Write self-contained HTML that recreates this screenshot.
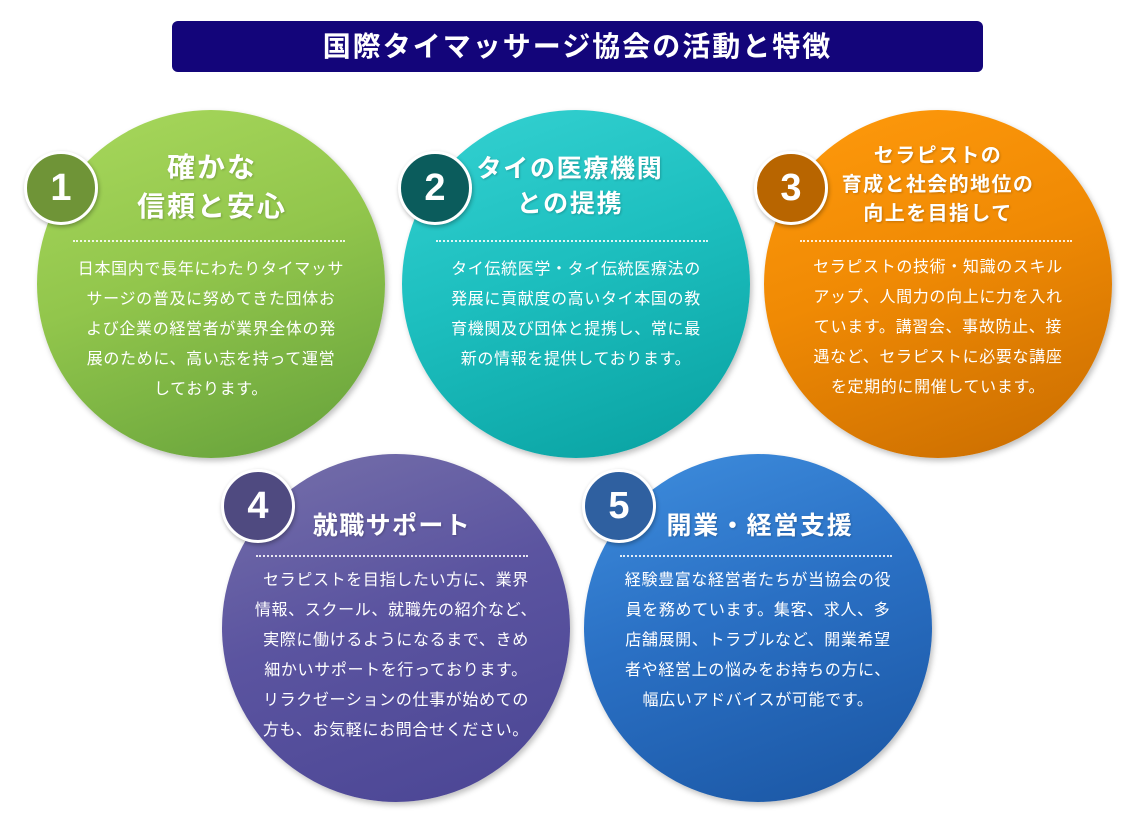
<!DOCTYPE html>
<html><head><meta charset="utf-8"><style>
body{margin:0;width:1140px;height:830px;background:#fff;position:relative;overflow:hidden;font-family:"Liberation Sans","Noto Sans CJK JP",sans-serif;color:#fff}
.bar{position:absolute;left:172px;top:21px;width:811px;height:51px;background:#13057a;border-radius:6px;text-align:center;line-height:51px;font-size:28px;font-weight:bold;letter-spacing:2px}
.c{position:absolute;width:348px;height:348px;border-radius:50%;box-shadow:2px 3px 6px rgba(0,0,0,.25)}
.b{position:absolute;width:68px;height:68px;border-radius:50%;border:3px solid #fff;box-shadow:1px 2px 4px rgba(0,0,0,.3);text-align:center;line-height:68px;font-size:38px;font-weight:bold;font-family:"Liberation Sans",sans-serif}
.t{position:absolute;text-align:center;font-weight:bold;text-shadow:1px 1px 2px rgba(0,0,0,.2);white-space:nowrap}
.d{position:absolute;height:0;border-top:2px dotted rgba(255,255,255,.85)}
.p{position:absolute;text-align:center;font-size:16px;letter-spacing:0.65px;line-height:30px;white-space:nowrap}
</style></head><body>
<div class="bar">国際タイマッサージ協会の活動と特徴</div>

<div class="c" style="left:37px;top:110px;background:linear-gradient(160deg,#a8d85c 0%,#92c64c 45%,#64a03a 100%)"></div>
<div class="c" style="left:402px;top:110px;background:linear-gradient(160deg,#35d2d2 0%,#1dbfbf 45%,#08a0a0 100%)"></div>
<div class="c" style="left:764px;top:110px;background:linear-gradient(160deg,#ff9a0c 0%,#f08a04 45%,#c86c00 100%)"></div>
<div class="c" style="left:222px;top:454px;background:linear-gradient(160deg,#7670aa 0%,#5b54a0 45%,#4a4594 100%)"></div>
<div class="c" style="left:584px;top:454px;background:linear-gradient(160deg,#3f8ede 0%,#2a70c4 45%,#1a55a2 100%)"></div>

<div class="b" style="left:24px;top:151px;background:#6f9437">1</div>
<div class="b" style="left:398px;top:151px;background:#0b5c5c">2</div>
<div class="b" style="left:754px;top:151px;background:#b86500">3</div>
<div class="b" style="left:221px;top:469px;background:#4f4a80">4</div>
<div class="b" style="left:582px;top:469px;background:#2f60a0">5</div>

<div class="t" style="left:97px;top:148px;width:230px;font-size:28px;letter-spacing:2px;line-height:39px">確かな<br>信頼と安心</div>
<div class="d" style="left:73px;top:240px;width:272px"></div>
<div class="p" style="left:37px;top:255px;width:348px">日本国内で長年にわたりタイマッサ<br>サージの普及に努めてきた団体お<br>よび企業の経営者が業界全体の発<br>展のために、高い志を持って運営<br>しております。</div>

<div class="t" style="left:460px;top:152px;width:220px;font-size:25px;letter-spacing:1.7px;line-height:35px">タイの医療機関<br>との提携</div>
<div class="d" style="left:436px;top:240px;width:272px"></div>
<div class="p" style="left:402px;top:255px;width:348px">タイ伝統医学・タイ伝統医療法の<br>発展に貢献度の高いタイ本国の教<br>育機関及び団体と提携し、常に最<br>新の情報を提供しております。</div>

<div class="t" style="left:828px;top:142px;width:220px;font-size:20px;letter-spacing:1.4px;line-height:29px">セラピストの<br>育成と社会的地位の<br>向上を目指して</div>
<div class="d" style="left:800px;top:240px;width:272px"></div>
<div class="p" style="left:764px;top:253px;width:348px">セラピストの技術・知識のスキル<br>アップ、人間力の向上に力を入れ<br>ています。講習会、事故防止、接<br>遇など、セラピストに必要な講座<br>を定期的に開催しています。</div>

<div class="t" style="left:292px;top:508px;width:200px;font-size:25px;letter-spacing:1.4px;line-height:36px">就職サポート</div>
<div class="d" style="left:256px;top:555px;width:272px"></div>
<div class="p" style="left:222px;top:566px;width:348px">セラピストを目指したい方に、業界<br>情報、スクール、就職先の紹介など、<br>実際に働けるようになるまで、きめ<br>細かいサポートを行っております。<br>リラクゼーションの仕事が始めての<br>方も、お気軽にお問合せください。</div>

<div class="t" style="left:650px;top:508px;width:220px;font-size:25px;letter-spacing:1.7px;line-height:36px">開業・経営支援</div>
<div class="d" style="left:620px;top:555px;width:272px"></div>
<div class="p" style="left:584px;top:566px;width:348px">経験豊富な経営者たちが当協会の役<br>員を務めています。集客、求人、多<br>店舗展開、トラブルなど、開業希望<br>者や経営上の悩みをお持ちの方に、<br>幅広いアドバイスが可能です。</div>
</body></html>
